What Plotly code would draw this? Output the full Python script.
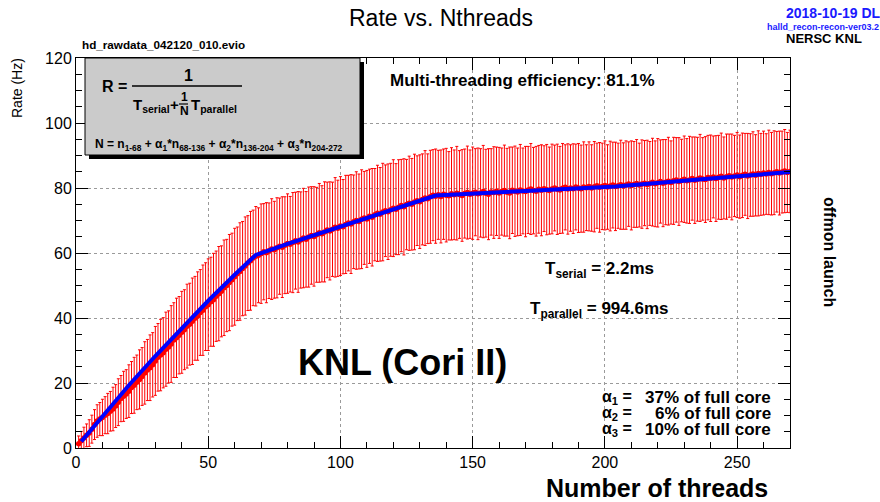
import plotly.graph_objects as go

# ---------------- data ----------------
THREADS = list(range(1, 271))

RATE = [
    1.3, 2.2, 3.1, 3.9, 4.6, 5.8, 7.2, 8.3, 8.9, 9.4,
    10.1, 10.6, 11.3, 12.0, 12.9, 14.1, 15.2, 15.9, 16.6, 17.5,
    18.6, 19.3, 20.2, 21.1, 22.0, 23.1, 24.0, 24.7, 25.6, 26.8,
    27.9, 28.6, 29.3, 30.4, 31.1, 32.0, 33.2, 33.9, 34.7, 35.6,
    36.4, 37.5, 38.1, 39.0, 39.9, 40.6, 41.7, 42.4, 43.5, 44.1,
    45.0, 45.6, 46.7, 47.5, 48.2, 49.3, 50.0, 50.9, 51.8, 52.7,
    53.6, 54.3, 55.2, 56.0, 56.9, 57.6, 58.5, 59.0,
    59.3, 59.8, 60.4, 60.1, 60.7, 61.2, 61.0, 61.6, 62.1, 61.8, 62.4, 62.9,
    62.7, 63.2, 63.8, 63.4, 64.0, 64.6, 64.2, 64.9, 65.4, 65.1,
    65.6, 66.2, 65.9, 66.5, 67.1, 66.8, 67.3, 67.9, 67.6, 68.3,
    68.1, 68.8, 69.2, 68.9, 69.6, 70.0, 69.7, 70.4, 70.8, 70.5,
    71.3, 71.0, 71.8, 72.2, 71.9, 72.6, 73.0, 72.7, 73.3, 73.8,
    73.5, 74.1, 74.6, 74.2, 74.9, 75.3, 75.0, 75.7, 76.1, 75.8,
    76.5, 76.9, 76.7, 77.3, 77.8, 77.5,
    77.9, 77.4, 78.1, 77.8, 77.6, 78.2, 77.9, 78.4, 78.0, 77.7, 78.3, 78.6, 78.1, 78.4,
    78.7, 78.2, 78.5, 78.9, 78.4, 78.1, 78.8, 78.6, 79.0, 78.5,
    78.9, 79.2, 78.7, 78.5, 79.3, 79.0, 78.8, 79.4, 79.1, 78.9,
    79.4, 79.7, 79.2, 79.0, 79.6, 79.3, 79.8, 79.5, 79.2, 79.7,
    80.0, 79.6, 79.4, 79.9, 80.2, 79.7, 80.0, 79.8, 80.3, 80.0,
    79.8, 80.3, 80.1, 80.5, 80.0, 80.4, 80.7, 80.2, 80.5, 80.8, 80.3, 80.6, 80.9, 80.5,
    80.7, 81.0, 80.6, 80.9, 81.2, 80.8, 81.1, 81.4, 80.9, 81.2,
    81.5, 81.1, 81.4, 81.8, 81.3, 81.6, 82.0, 81.5, 81.8, 82.1,
    81.7, 82.2, 82.5, 82.0, 82.3, 82.7, 82.2, 82.5, 82.9, 82.4,
    82.7, 83.1, 82.8, 82.6, 83.2, 83.0, 83.4, 82.9, 83.3, 83.6,
    83.1, 83.5, 83.8, 83.4, 83.7, 84.0, 83.5, 83.9, 84.2, 83.7,
    84.0, 84.3, 83.9, 84.5, 84.2, 84.6, 84.3, 84.8, 84.4, 84.7,
    85.0, 84.6, 84.9, 85.2, 84.8, 85.1,
]

RATE_ERR = [
    2.4, 2.9, 3.3, 3.5, 4.1, 4.3, 4.6, 5.0, 5.1, 5.6,
    5.7, 6.2, 6.1, 6.7, 6.6, 7.2, 7.1, 7.7, 7.5, 8.1,
    8.0, 8.6, 8.4, 9.1, 8.9, 9.6, 9.4, 10.1, 9.9, 10.6,
    10.4, 11.0, 10.8, 11.4, 11.1, 11.8, 11.5, 12.2, 11.9, 12.6,
    12.3, 12.9, 12.6, 13.3, 12.9, 13.6, 13.2, 13.9, 13.5, 14.1,
    13.7, 14.3, 13.9, 14.5, 14.0, 14.7, 14.2, 14.8, 14.3, 14.9,
    14.4, 15.0, 14.5, 15.1, 14.6, 15.2, 14.7, 15.3,
    14.6, 15.3, 14.8, 15.4, 14.7, 15.5, 14.9, 15.4, 14.8, 15.5, 14.9, 15.3,
    14.7, 15.4, 14.9, 15.5, 14.8, 15.3, 14.7, 15.4, 15.0, 15.3,
    14.6, 15.2, 14.8, 15.4, 14.7, 15.1, 14.5, 15.3, 14.8, 15.2,
    14.5, 15.1, 14.7, 15.2, 14.4, 15.0, 14.6, 15.2, 14.3, 14.9,
    14.5, 15.0, 14.2, 14.8, 14.4, 15.0, 14.1, 14.7, 14.3, 14.9,
    14.0, 14.6, 14.2, 14.8, 13.9, 14.5, 14.1, 14.7, 13.8, 14.4,
    14.0, 14.6, 13.8, 14.3, 14.0, 14.5,
    13.7, 14.3, 13.9, 14.4, 13.6, 14.2, 13.8, 14.4, 13.5, 14.1, 13.7, 14.3, 13.6, 14.2,
    13.4, 14.1, 13.6, 14.2, 13.5, 14.0, 13.3, 14.1, 13.6, 14.0,
    13.4, 14.0, 13.5, 14.1, 13.3, 13.9, 13.5, 14.0, 13.2, 13.9,
    13.4, 14.0, 13.3, 13.8, 13.5, 14.0, 13.2, 13.9, 13.4, 13.8,
    13.2, 13.9, 13.4, 13.8, 13.1, 13.9, 13.3, 13.8, 13.2, 13.7,
    13.4, 13.9, 13.2, 13.7, 13.3, 13.9, 13.1, 13.8, 13.3, 13.7, 13.0, 13.8, 13.2, 13.6,
    13.1, 13.7, 13.3, 13.6, 13.0, 13.7, 13.2, 13.5, 12.9, 13.6,
    13.1, 13.6, 12.9, 13.5, 13.2, 13.6, 12.8, 13.4, 13.1, 13.5,
    12.8, 13.4, 13.0, 13.5, 12.7, 13.3, 13.0, 13.4, 12.8, 13.3,
    12.9, 13.4, 12.7, 13.2, 13.0, 13.3, 12.6, 13.2, 12.9, 13.3,
    12.6, 13.1, 12.8, 13.2, 12.5, 13.1, 12.8, 13.0, 12.6, 13.1,
    12.7, 13.0, 12.5, 13.1, 12.6, 12.9, 12.4, 13.0, 12.7, 12.9,
    12.4, 12.9, 12.6, 12.8, 12.3, 12.7,
]

FIT_THREADS = [2, 10, 20, 30, 40, 50, 60, 68, 80, 90, 100, 110, 120, 130, 136, 170, 204, 240, 270]
FIT_RATE = [2.0, 9.8, 19.3, 28.3, 37.0, 45.3, 53.3, 59.4, 62.8, 65.5, 68.2, 70.9, 73.5, 76.1, 77.7, 79.1, 80.5, 82.9, 84.9]

X_TICKS = [0, 50, 100, 150, 200, 250]
Y_TICKS = [0, 20, 40, 60, 80, 100, 120]

assert len(RATE) == len(THREADS) == len(RATE_ERR)

# ---------------- layout geometry ----------------
WIDTH, HEIGHT = 880, 502
ML, MR, MT, MB = 76, 90, 58, 54
PW = WIDTH - ML - MR
PH = HEIGHT - MT - MB
FONT = "Liberation Sans, Arial, Helvetica, sans-serif"


def fx(px):
    return (px - ML) / PW


def fy(py):
    return (HEIGHT - MB - py) / PH


fig = go.Figure()

fig.add_trace(go.Scatter(
    x=THREADS, y=RATE, mode="markers",
    marker=dict(color="#ff0000", size=5.5, symbol="circle"),
    error_y=dict(type="data", array=RATE_ERR, visible=True,
                 color="#ff0000", thickness=1, width=1.5),
    showlegend=False, hoverinfo="x+y",
))

fig.add_trace(go.Scatter(
    x=FIT_THREADS, y=FIT_RATE, mode="lines",
    line=dict(color="#0000ff", width=4),
    showlegend=False,
))

axis_common = dict(
    showline=True, linecolor="black", linewidth=1, mirror="allticks",
    ticks="inside", ticklen=12, tickcolor="black", tickwidth=1,
    showgrid=True, gridcolor="#9a9a9a", griddash="dot", gridwidth=1,
    zeroline=False,
    tickfont=dict(family=FONT, size=16, color="black"),
)

fig.update_xaxes(range=[0, 270], tickvals=X_TICKS,
                 minor=dict(dtick=10, ticklen=6, ticks="inside", tickcolor="black", showgrid=False),
                 **axis_common)
fig.update_yaxes(range=[0, 120], tickvals=Y_TICKS,
                 minor=dict(dtick=5, ticklen=6, ticks="inside", tickcolor="black", showgrid=False),
                 **axis_common)

shapes = []
# Shadowed pave box
shapes.append(dict(type="rect", xref="paper", yref="paper",
                   x0=fx(89), x1=fx(364), y0=fy(159), y1=fy(62),
                   fillcolor="black", line=dict(width=0), layer="above"))
shapes.append(dict(type="rect", xref="paper", yref="paper",
                   x0=fx(85), x1=fx(360), y0=fy(155), y1=fy(58),
                   fillcolor="#cbcbcb", line=dict(color="black", width=1), layer="above"))
# fraction lines
shapes.append(dict(type="line", xref="paper", yref="paper",
                   x0=fx(132), x1=fx(242), y0=fy(86), y1=fy(86),
                   line=dict(color="black", width=1.5), layer="above"))
shapes.append(dict(type="line", xref="paper", yref="paper",
                   x0=fx(179), x1=fx(188), y0=fy(104), y1=fy(104),
                   line=dict(color="black", width=1.2), layer="above"))

ann = []


def add_text(text, x, y, size, xanchor="center", bold=False, color="black", angle=0, yanchor="middle"):
    ann.append(dict(
        text=text, x=fx(x), y=fy(y), xref="paper", yref="paper",
        xanchor=xanchor, yanchor=yanchor, showarrow=False, textangle=angle,
        font=dict(family=FONT, size=size, color=color, weight="bold" if bold else "normal"),
    ))


add_text("Rate vs. Nthreads", 441, 18, 23)
add_text("2018-10-19 DL", 833, 13, 14, bold=True, color="#1a1aff")
add_text("halld_recon-recon-ver03.2", 823, 26.5, 9, bold=True, color="#1a1aff")
add_text("NERSC KNL", 824, 39, 13, bold=True)
add_text("hd_rawdata_042120_010.evio", 80, 45, 11.7, xanchor="left", bold=True)

# formula box
add_text("R =", 114, 87, 16, bold=True)
add_text("1", 188, 76, 16, bold=True)
add_text("T<sub>serial</sub>", 131, 105, 15, xanchor="left", bold=True)
add_text("+", 174, 104, 15, bold=True)
add_text("1", 184, 97, 12, bold=True)
add_text("N", 184, 111, 12, bold=True)
add_text("T<sub>parallel</sub>", 189, 105, 15, xanchor="left", bold=True)
add_text("N = n<sub>1-68</sub> + α<sub>1</sub>*n<sub>68-136</sub> + α<sub>2</sub>*n<sub>136-204</sub>"
         " + α<sub>3</sub>*n<sub>204-272</sub>", 93, 145, 12, xanchor="left", bold=True)

add_text("Multi-threading efficiency: 81.1%", 522, 80, 17, bold=True)
add_text("T<sub>serial</sub> = 2.2ms", 599, 270, 17, bold=True)
add_text("T<sub>parallel</sub> = 994.6ms", 599, 310, 17, bold=True)
add_text("KNL (Cori II)", 402, 362, 36, bold=True)

for i, (lab, val) in enumerate([("α<sub>1</sub> =", "37% of full core"),
                                ("α<sub>2</sub> =", "6% of full core"),
                                ("α<sub>3</sub> =", "10% of full core")]):
    yy = 397 + 16 * i
    add_text(lab, 600, yy, 16, xanchor="left", bold=True)
    add_text(val, 773, yy, 17, xanchor="right", bold=True)

add_text("Number of threads", 770, 488, 25, xanchor="right", bold=True)
add_text("Rate (Hz)", 17, 88, 14, angle=-90)
add_text("offmon launch", 830, 252, 16, bold=True, angle=90)

fig.update_layout(
    width=WIDTH, height=HEIGHT,
    margin=dict(l=ML, r=MR, t=MT, b=MB, pad=0),
    paper_bgcolor="white", plot_bgcolor="white",
    shapes=shapes, annotations=ann,
    font=dict(family=FONT, color="black"),
)

fig.write_html("out.html", config={"displayModeBar": False},
               post_script="document.body.style.margin='0px';document.body.style.padding='0px';")
